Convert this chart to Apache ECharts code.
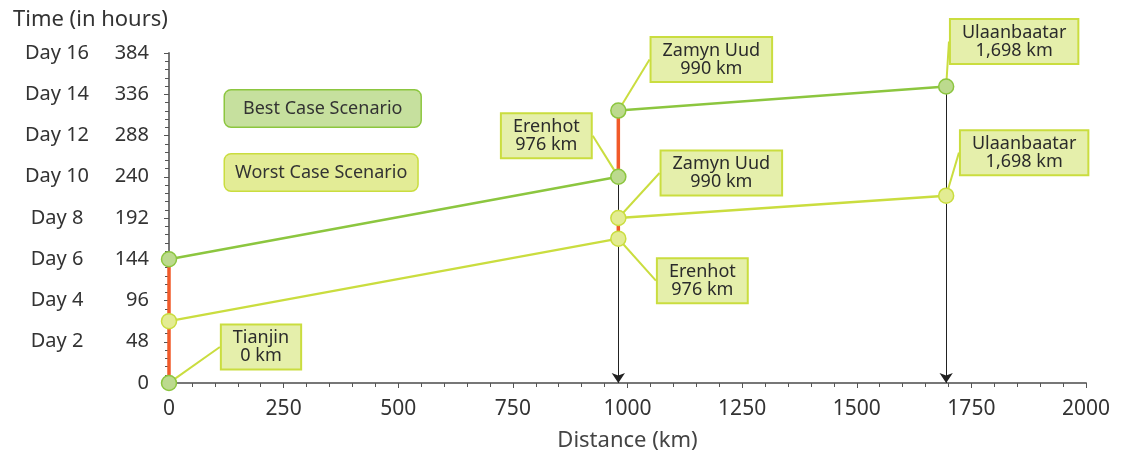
<!DOCTYPE html>
<html lang="en">
<head>
    <meta charset="UTF-8">
    <title>Tianjin - Ulaanbaatar transit time</title>
    <script src="https://cdn.jsdelivr.net/npm/echarts@6/dist/echarts.min.js"></script>
    <style>
        html, body { margin: 0; padding: 0; background: #fff; }
        #main { width: 1126px; height: 457px; }
    </style>
</head>
<body>
<div id="main"></div>
<script>
    // stops along the corridor
    var stopNames = ['Tianjin', 'Erenhot', 'Zamyn Uud', 'Ulaanbaatar'];
    var stopKmText = ['0 km', '976 km', '990 km', '1,698 km'];
    var stopKm = [0, 980, 980, 1695];          // where the picture puts each stop
    // hours: Tianjin departure, Erenhot arrival, Zamyn Uud departure, Ulaanbaatar arrival
    var bestHours = [144, 240, 317, 345];
    var worstHours = [72, 168, 192, 218];
    var dayLabels = ['', 'Day 2', 'Day 4', 'Day 6', 'Day 8', 'Day 10', 'Day 12', 'Day 14', 'Day 16'];

    var FONT = 'Noto Sans';
    var GREEN = '#8cc63f', GREEN_FILL = '#bcda8e';
    var LIME = '#cadd3f', LIME_FILL = '#e3ec93';
    var RED = '#f15a29';
    var BOX_FILL = '#e5efab';

    // label box offsets (box centre minus point), key = seriesIndex-dataIndex
    var offsets = {};

    function stopLabel(i) {
        return {
            show: true,
            position: 'inside',
            formatter: stopNames[i] + '\n' + stopKmText[i],
            fontFamily: FONT,
            fontSize: 18,
            lineHeight: 18,
            color: '#2b2b2b',
            align: 'center',
            backgroundColor: BOX_FILL,
            borderColor: LIME,
            borderWidth: 2,
            padding: [4, 11, 3, 11]
        };
    }

    function pt(i, hours, withLabel) {
        var item = { value: [stopKm[i], hours] };
        if (withLabel) item.label = stopLabel(i);
        return item;
    }

    function lineSeries(name, color, fill, data, z) {
        return {
            name: name,
            type: 'line',
            z: z,
            silent: true,
            symbol: 'circle',
            symbolSize: 15,
            showSymbol: true,
            lineStyle: { color: color, width: 2.5 },
            itemStyle: { color: fill, borderColor: color, borderWidth: 1.5 },
            label: { show: false },
            labelLine: { show: true, lineStyle: { color: LIME, width: 2 } },
            labelLayout: function (p) {
                var o = offsets[p.seriesIndex + '-' + p.dataIndex];
                return o ? { dx: o[0], dy: o[1] } : {};
            },
            emphasis: { disabled: true },
            data: data
        };
    }

    function waitSeries(x, from, to) {
        return {
            type: 'line',
            z: 3,
            silent: true,
            showSymbol: false,
            symbol: 'none',
            lineStyle: { color: RED, width: 3.5 },
            data: [[x, from], [x, to]]
        };
    }

    var series = [
        // 0: arrows down to the distance axis
        {
            type: 'lines',
            coordinateSystem: 'cartesian2d',
            z: 1,
            silent: true,
            symbol: ['none', 'arrow'],
            symbolSize: [7, 10],
            lineStyle: { color: '#222', width: 1, opacity: 1 },
            data: [
                { coords: [[stopKm[2], bestHours[2]], [stopKm[2], 0]] },
                { coords: [[stopKm[3], bestHours[3]], [stopKm[3], 0]] }
            ]
        },
        // 1-3: waiting time
        waitSeries(stopKm[0], 0, bestHours[0]),
        waitSeries(stopKm[1], bestHours[1], bestHours[2]),
        waitSeries(stopKm[1], worstHours[1], worstHours[2]),
        // 4-5: best case
        lineSeries('Best Case Scenario', GREEN, GREEN_FILL,
            [pt(0, bestHours[0]), pt(1, bestHours[1], true)], 4),
        lineSeries('Best Case Scenario', GREEN, GREEN_FILL,
            [pt(2, bestHours[2], true), pt(3, bestHours[3], true)], 4),
        // 6-7: worst case
        lineSeries('Worst Case Scenario', LIME, LIME_FILL,
            [pt(0, worstHours[0]), pt(1, worstHours[1], true)], 4),
        lineSeries('Worst Case Scenario', LIME, LIME_FILL,
            [pt(2, worstHours[2], true), pt(3, worstHours[3], true)], 4),
        // 8: Tianjin arrival
        lineSeries('Tianjin', GREEN, GREEN_FILL, [pt(0, 0, true)], 5)
    ];

    offsets['8-0'] = [92, -36];
    offsets['4-1'] = [-72, -41];
    offsets['5-0'] = [93, -51];
    offsets['5-1'] = [68, -45];
    offsets['6-1'] = [84, 42];
    offsets['7-0'] = [103, -45];
    offsets['7-1'] = [78, -43];

    var myChart = echarts.init(document.getElementById('main'));
    var option = {
        animation: false,
        title: {
            text: 'Time (in hours)',
            left: 8,
            top: 4,
            textStyle: { fontFamily: FONT, fontSize: 22, fontWeight: 'normal', color: '#333' }
        },
        legend: {
            orient: 'vertical',
            left: 219,
            top: 89,
            padding: 0,
            itemGap: 25,
            itemWidth: 0,
            itemHeight: 0,
            icon: 'rect',
            selectedMode: false,
            data: [
                {
                    name: 'Best Case Scenario',
                    textStyle: {
                        fontFamily: FONT, fontSize: 18, color: '#333',
                        backgroundColor: '#c6e09e', borderColor: GREEN, borderWidth: 1.5,
                        borderRadius: 6, padding: [9, 18, 9, 18]
                    }
                },
                {
                    name: 'Worst Case Scenario',
                    textStyle: {
                        fontFamily: FONT, fontSize: 18, color: '#333',
                        backgroundColor: '#e3ec96', borderColor: LIME, borderWidth: 1.5,
                        borderRadius: 6, padding: [9, 10, 9, 10]
                    }
                }
            ]
        },
        grid: { left: 169, right: 40, top: 53, bottom: 74, containLabel: false, outerBoundsMode: 'none' },
        xAxis: {
            type: 'value',
            min: 0,
            max: 2000,
            interval: 250,
            name: 'Distance (km)',
            nameLocation: 'middle',
            nameGap: 47,
            nameTextStyle: { fontFamily: FONT, fontSize: 22, color: '#444' },
            axisLine: { show: true, lineStyle: { color: '#777', width: 2 } },
            axisTick: { show: true, length: 5, lineStyle: { color: '#555' } },
            minorTick: { show: true, splitNumber: 5, length: 4, lineStyle: { color: '#555' } },
            splitLine: { show: false },
            axisLabel: {
                fontFamily: FONT, fontSize: 21, color: '#333', margin: 16,
                formatter: function (v) { return String(v); }
            }
        },
        yAxis: {
            type: 'value',
            min: 0,
            max: 384,
            interval: 48,
            axisLine: { show: true, lineStyle: { color: '#777', width: 2 } },
            axisTick: { show: true, length: 5, lineStyle: { color: '#555' } },
            minorTick: { show: true, splitNumber: 5, length: 4, lineStyle: { color: '#555' } },
            splitLine: { show: false },
            axisLabel: {
                margin: 20,
                formatter: function (v) {
                    return '{d|' + dayLabels[v / 48] + '}{n|' + v + '}';
                },
                rich: {
                    d: { fontFamily: FONT, fontSize: 20, color: '#333', width: 94, align: 'center' },
                    n: { fontFamily: FONT, fontSize: 20, color: '#333', width: 45, align: 'right' }
                }
            }
        },
        series: series
    };
    myChart.setOption(option);
</script>
</body>
</html>
